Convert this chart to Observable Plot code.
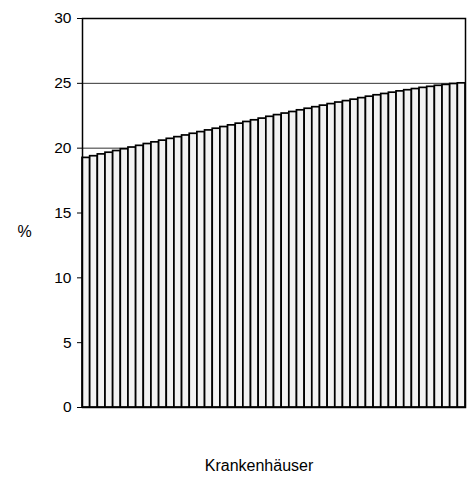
<!DOCTYPE html>
<html>
<head>
<meta charset="utf-8">
<script src="https://cdn.jsdelivr.net/npm/d3@7"></script>
<script src="https://cdn.jsdelivr.net/npm/@observablehq/plot@0.6"></script>
<style>
  html, body { margin: 0; padding: 0; background: #fff; }
  #chart { width: 467px; height: 479px; }
</style>
</head>
<body>
<div id="chart"></div>
<script>
// Hospitals (categories), 50 bars, sorted ascending
const hospitals = ["H1","H2","H3","H4","H5","H6","H7","H8","H9","H10",
  "H11","H12","H13","H14","H15","H16","H17","H18","H19","H20",
  "H21","H22","H23","H24","H25","H26","H27","H28","H29","H30",
  "H31","H32","H33","H34","H35","H36","H37","H38","H39","H40",
  "H41","H42","H43","H44","H45","H46","H47","H48","H49","H50"];
// Percent values
const percents = [19.25, 19.38, 19.52, 19.65, 19.78, 19.92, 20.05, 20.18, 20.32, 20.45,
  20.58, 20.72, 20.85, 20.98, 21.11, 21.24, 21.37, 21.50, 21.63, 21.76,
  21.89, 22.02, 22.15, 22.28, 22.42, 22.55, 22.67, 22.79, 22.92, 23.04,
  23.16, 23.28, 23.40, 23.52, 23.63, 23.74, 23.86, 23.97, 24.08, 24.18,
  24.28, 24.38, 24.47, 24.56, 24.65, 24.73, 24.81, 24.88, 24.95, 25.00];
const yTicks = [0, 5, 10, 15, 20, 25, 30];
const gridValues = [5, 10, 15, 20, 25];
const yLabel = "%";
const xLabel = "Krankenhäuser";

const data = hospitals.map((h, i) => ({h, v: percents[i]}));

const chart = Plot.plot({
  width: 467,
  height: 479,
  marginLeft: 82,
  marginRight: 2,
  marginTop: 18,
  marginBottom: 72,
  style: {fontFamily: "'Liberation Sans', Arial, sans-serif", fontSize: "16px", color: "#000", background: "#fff"},
  x: {type: "band", domain: hospitals, padding: 0, axis: null},
  y: {domain: [0, 30], axis: null},
  marks: [
    Plot.ruleY(gridValues, {stroke: "#333", strokeWidth: 1}),
    Plot.barY(data, {x: "h", y: "v", fill: "#f2f2f2", stroke: "#000", strokeWidth: 1.7}),
    Plot.frame({stroke: "#000", strokeWidth: 1.5}),
    Plot.axisY({ticks: yTicks, tickSize: 5, tickPadding: 6, fontSize: 15.5, label: null, stroke: "#000"}),
    Plot.text([yLabel], {frameAnchor: "left", dx: -65, dy: 19, fontSize: 16, fill: "#000"}),
    Plot.text([xLabel], {frameAnchor: "bottom", dx: -15, dy: 63, fontSize: 16, fill: "#000"})
  ]
});
document.getElementById("chart").appendChild(chart);
</script>
</body>
</html>
